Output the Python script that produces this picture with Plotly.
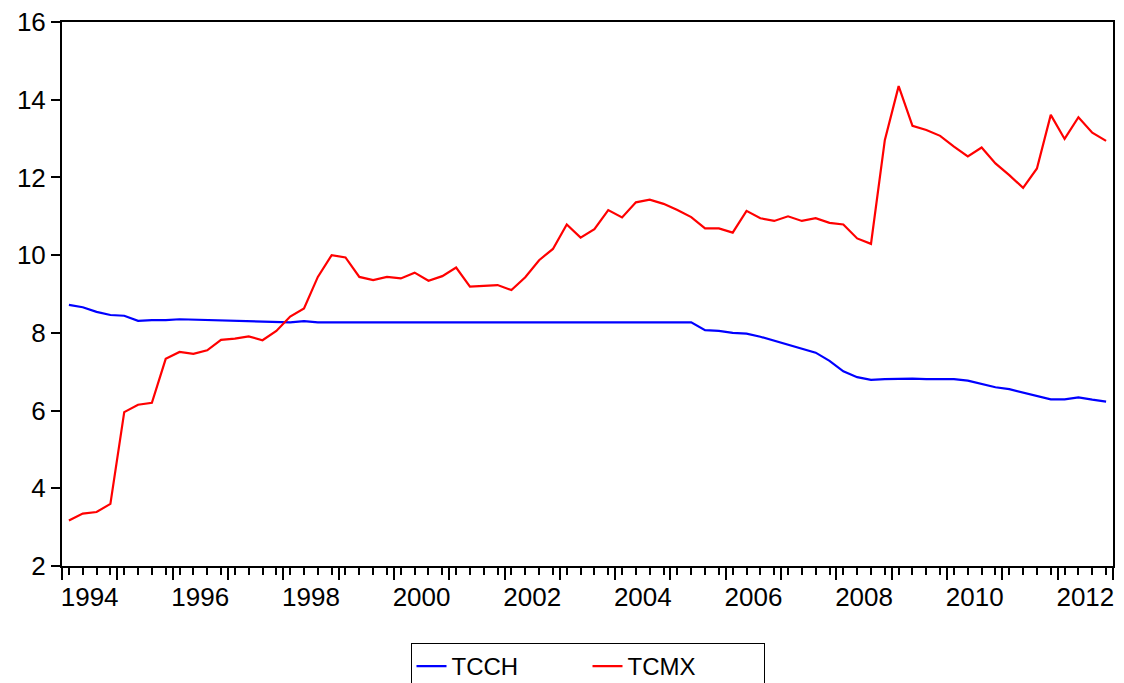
import plotly.graph_objects as go

# Quarterly periods 1994Q1 - 2012Q4
years = list(range(1994, 2013))
quarters = [1, 2, 3, 4]

tcch = [8.72, 8.66, 8.54, 8.46, 8.44, 8.31, 8.33, 8.33, 8.35, 8.34, 8.33, 8.32,
        8.31, 8.31, 8.30, 8.29, 8.27, 8.30, 8.27, 8.27, 8.27, 8.27, 8.27, 8.27,
        8.27, 8.27, 8.27, 8.27, 8.27, 8.27, 8.27, 8.27, 8.27, 8.27, 8.27, 8.27,
        8.27, 8.27, 8.27, 8.27, 8.27, 8.27, 8.27, 8.27, 8.27, 8.27, 8.07, 8.05,
        8.00, 7.98, 7.90, 7.80, 7.71, 7.59, 7.49, 7.28, 7.01, 6.86, 6.79, 6.81,
        6.82, 6.82, 6.81, 6.81, 6.81, 6.77, 6.68, 6.60, 6.55, 6.46, 6.37, 6.29,
        6.29, 6.34, 6.28, 6.23]

tcmx = [3.17, 3.35, 3.39, 3.60, 5.96, 6.15, 6.20, 7.33, 7.51, 7.46, 7.55, 7.82,
        7.85, 7.91, 7.81, 8.05, 8.42, 8.63, 9.44, 10.00, 9.94, 9.44, 9.36, 9.44,
        9.40, 9.55, 9.34, 9.46, 9.68, 9.19, 9.21, 9.23, 9.10, 9.43, 9.87, 10.16,
        10.79, 10.45, 10.67, 11.16, 10.97, 11.36, 11.43, 11.32, 11.16, 10.98, 10.69, 10.69,
        10.58, 11.14, 10.95, 10.88, 11.00, 10.88, 10.95, 10.83, 10.79, 10.43, 10.29, 12.96,
        14.35, 13.33, 13.22, 13.07, 12.79, 12.54, 12.77, 12.36, 12.06, 11.73, 12.23, 13.61,
        12.99, 13.55, 13.15, 12.94]

y_ticks = [2, 4, 6, 8, 10, 12, 14, 16]
x_label_years = list(range(1994, 2013, 2))

# position of each quarter at the middle of its period
x = [yr + (q - 0.5) / 4 for yr in years for q in quarters]

FONT = "Liberation Sans, Arial, sans-serif"
FS = 26
W, H = 1116, 675  # page body has an 8px margin

fig = go.Figure()
fig.add_trace(go.Scatter(x=x, y=tcch, mode="lines", name="TCCH",
                         line=dict(color="#0000FF", width=2.2)))
fig.add_trace(go.Scatter(x=x, y=tcmx, mode="lines", name="TCMX",
                         line=dict(color="#FF0000", width=2.2)))
# invisible helper trace for the label axis
fig.add_trace(go.Scatter(x=[x[0]], y=[tcch[0]], xaxis="x2", mode="markers",
                         marker=dict(opacity=0), showlegend=False, hoverinfo="skip"))

x_range = [years[0], years[-1] + 1]

fig.update_layout(
    width=W, height=H,
    paper_bgcolor="white", plot_bgcolor="white",
    margin=dict(l=54, r=11, t=14, b=117),
    font=dict(family=FONT, size=FS, color="black"),
    showlegend=True,
    legend=dict(orientation="h", x=0.5, xanchor="center",
                yref="container", y=1 - 635 / H, yanchor="top",
                bordercolor="black", borderwidth=1, bgcolor="white",
                font=dict(size=24), entrywidth=131, entrywidthmode="pixels"),
    xaxis=dict(range=x_range, tickvals=list(range(years[0], years[-1] + 2)),
               showticklabels=False, ticks="outside", ticklen=12, tickwidth=1.5,
               tickcolor="black", automargin=False,
               minor=dict(tickvals=x, ticks="outside", ticklen=7, tickwidth=1.5,
                          tickcolor="black", showgrid=False),
               showline=True, linecolor="black", linewidth=2, mirror=True,
               showgrid=False, zeroline=False),
    xaxis2=dict(range=x_range, overlaying="x", side="bottom", anchor="y",
                tickvals=[yr + 0.5 for yr in x_label_years],
                ticktext=[str(yr) for yr in x_label_years],
                ticks="outside", ticklen=8, tickcolor="rgba(0,0,0,0)",
                showline=False, showgrid=False, zeroline=False, automargin=False,
                ticklabeloverflow="allow", tickfont=dict(size=FS)),
    yaxis=dict(range=[2, 16], tickvals=y_ticks, ticks="outside", ticklen=9,
               tickwidth=1.5, tickcolor="black", automargin=False,
               ticklabeloverflow="allow",
               showline=True, linecolor="black", linewidth=2, mirror=True,
               showgrid=False, zeroline=False, tickfont=dict(size=FS)),
)

fig.write_html("out.html")
